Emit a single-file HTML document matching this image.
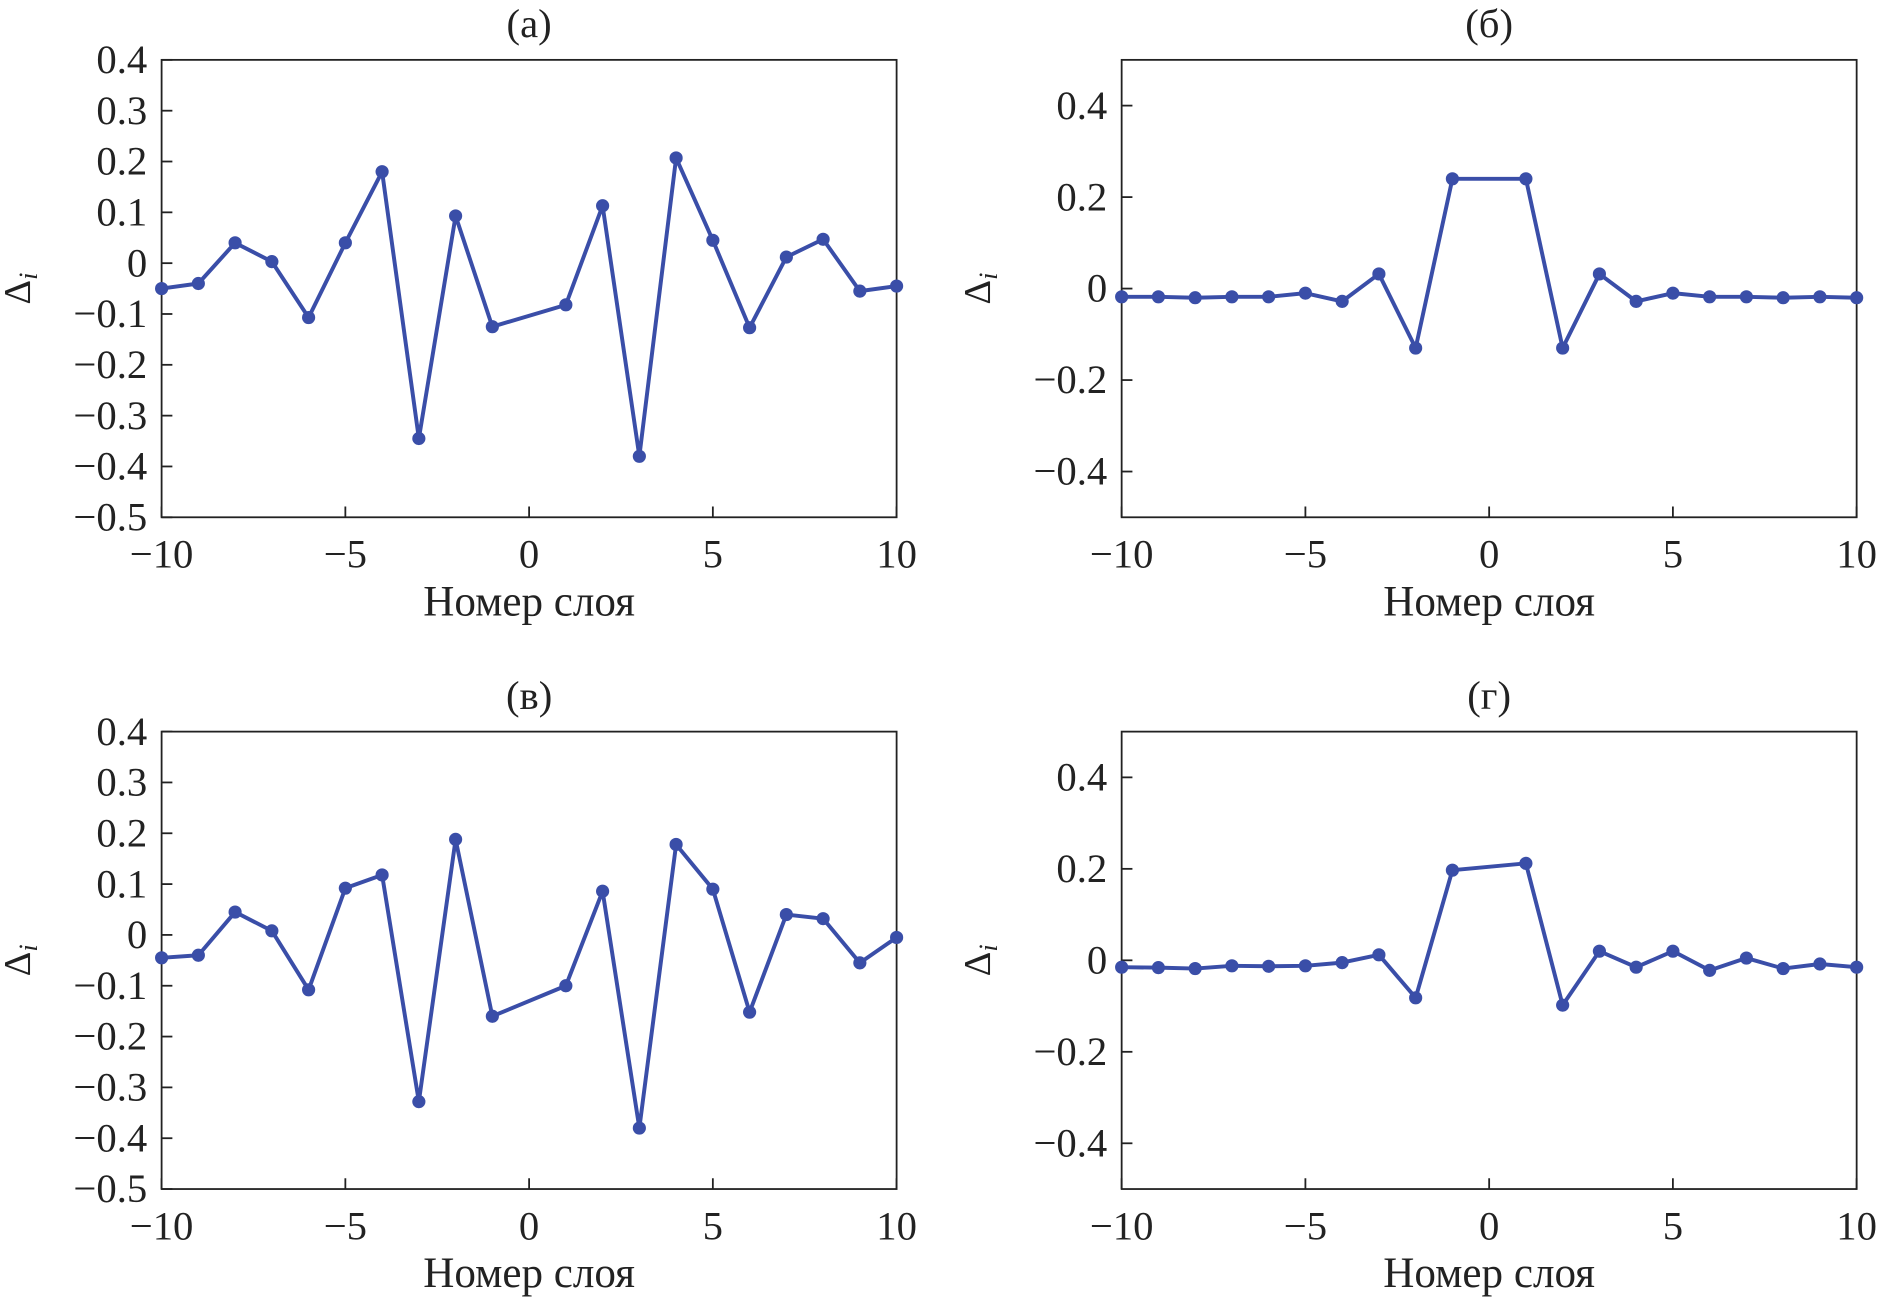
<!DOCTYPE html>
<html><head><meta charset="utf-8"><style>
html,body{margin:0;padding:0;background:#fff;}
svg{display:block;}
text{font-family:"Liberation Serif",serif;fill:#222;}
</style></head><body>
<svg id="fig" width="1877" height="1298" viewBox="0 0 1568 1084" preserveAspectRatio="none" xmlns="http://www.w3.org/2000/svg"></svg>
<script>
const layers=[-10,-9,-8,-7,-6,-5,-4,-3,-2,-1,1,2,3,4,5,6,7,8,9,10];
const seriesA=[-0.05,-0.04,0.04,0.003,-0.107,0.04,0.18,-0.345,0.093,-0.125,-0.082,0.113,-0.38,0.207,0.045,-0.127,0.012,0.047,-0.055,-0.045];
const seriesB=[-0.018,-0.018,-0.02,-0.018,-0.018,-0.01,-0.028,0.032,-0.13,0.24,0.24,-0.13,0.032,-0.028,-0.01,-0.018,-0.018,-0.02,-0.018,-0.02];
const seriesC=[-0.045,-0.04,0.045,0.008,-0.108,0.092,0.118,-0.328,0.188,-0.16,-0.1,0.086,-0.38,0.178,0.09,-0.152,0.04,0.032,-0.055,-0.005];
const seriesD=[-0.015,-0.016,-0.018,-0.012,-0.013,-0.012,-0.005,0.012,-0.082,0.197,0.212,-0.098,0.02,-0.015,0.02,-0.022,0.005,-0.018,-0.008,-0.015];
const xTicks=[-10,-5,0,5,10];
const yTicksAC=[0.4,0.3,0.2,0.1,0,-0.1,-0.2,-0.3,-0.4,-0.5];
const yTicksBD=[0.4,0.2,0,-0.2,-0.4];
const titles=["(а)","(б)","(в)","(г)"];
const NS="http://www.w3.org/2000/svg";
const svg=document.getElementById('fig');
function mk(tag,attrs,parent){const e=document.createElementNS(NS,tag);for(const k in attrs)e.setAttribute(k,attrs[k]);(parent||svg).appendChild(e);return e;}
function fmt(v){if(v===0)return "0";let s=Math.abs(v).toFixed(1);if(Number.isInteger(v))s=String(Math.abs(v));return (v<0?"\u2212":"")+s;}
const panels=[
 {x0:135,x1:749,y0:50,y1:432,ymin:-0.5,ymax:0.4,yt:yTicksAC,data:seriesA,name:'a'},
 {x0:937,x1:1551,y0:50,y1:432,ymin:-0.5,ymax:0.5,yt:yTicksBD,data:seriesB,name:'b'},
 {x0:135,x1:749,y0:611,y1:993,ymin:-0.5,ymax:0.4,yt:yTicksAC,data:seriesC,name:'c'},
 {x0:937,x1:1551,y0:611,y1:993,ymin:-0.5,ymax:0.5,yt:yTicksBD,data:seriesD,name:'d'}];
panels.forEach((p,i)=>{
 const g=mk('g',{});
 
 
 const sx=v=>p.x0+(v+10)/20*(p.x1-p.x0);
 const sy=v=>p.y1-(v-p.ymin)/(p.ymax-p.ymin)*(p.y1-p.y0);
 const fr=mk('rect',{x:p.x0,y:p.y0,width:p.x1-p.x0,height:p.y1-p.y0,fill:'none',stroke:'#222','stroke-width':1.5},g);
 
 
 const t=mk('text',{x:(p.x0+p.x1)/2,y:p.y0-19,'text-anchor':'middle','font-size':34},g);t.textContent=titles[i];
 
 
 xTicks.forEach(v=>{
  mk('line',{x1:sx(v),x2:sx(v),y1:p.y1,y2:p.y1-9,stroke:'#222','stroke-width':1.5},g);
  const l=mk('text',{x:sx(v),y:p.y1+42,'text-anchor':'middle','font-size':34},g);l.textContent=fmt(v);
  
  
 });
 p.yt.forEach(v=>{
  mk('line',{x1:p.x0,x2:p.x0+9,y1:sy(v),y2:sy(v),stroke:'#222','stroke-width':1.5},g);
  const l=mk('text',{x:p.x0-12,y:sy(v)+11,'text-anchor':'end','font-size':34},g);l.textContent=fmt(v);
  
  
 });
 const xl=mk('text',{x:(p.x0+p.x1)/2,y:p.y1+82,'text-anchor':'middle','font-size':36},g);xl.textContent="Номер слоя";
 
 
 const yx=p.x0-110, yy=(p.y0+p.y1)/2;
 const yl=mk('text',{x:yx,y:yy,'text-anchor':'middle','font-size':32,transform:`rotate(-90 ${yx} ${yy})`},g);
 yl.innerHTML='Δ<tspan font-style="italic" font-size="22" dy="6">i</tspan>';
 
 
 const pts=layers.map((x,k)=>sx(x)+','+sy(p.data[k])).join(' ');
 const pl=mk('polyline',{points:pts,fill:'none',stroke:'#3a4ea8','stroke-width':3.3,'stroke-linejoin':'round'},g);
 
 
 layers.forEach((x,k)=>{
  const c=mk('circle',{cx:sx(x),cy:sy(p.data[k]),r:5.5,fill:'#3a4ea8'},g);
  
  
 });
});
</script>
</body></html>
